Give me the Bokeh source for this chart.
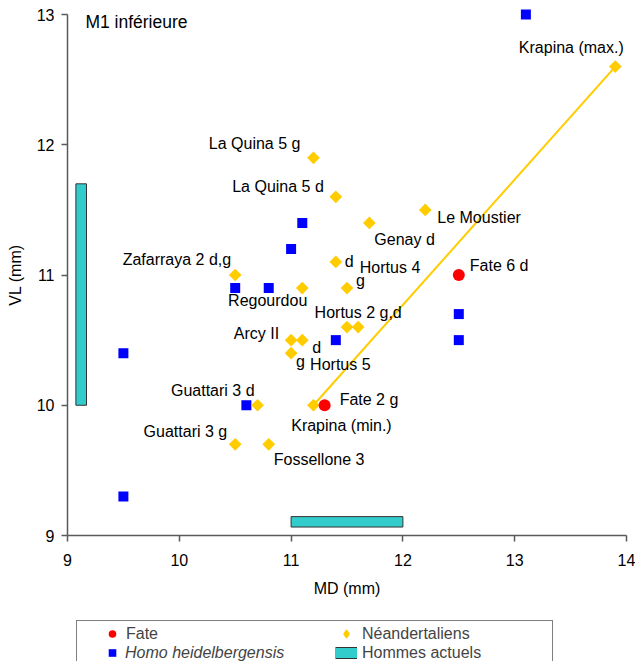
from bokeh.plotting import figure
from bokeh.models import (Range1d, FixedTicker, Legend, LegendItem, Label,
                          ColumnDataSource)
from bokeh.core.properties import value
from bokeh.embed import file_html
from bokeh.resources import INLINE
import math

# ---------------- data ----------------
x_ticks = [9, 10, 11, 12, 13, 14]
y_ticks = [9, 10, 11, 12, 13]

fate_md = [12.5, 11.3]
fate_vl = [11.0, 10.0]
fate_names = ["Fate 6 d", "Fate 2 g"]

heid_md = [13.1, 11.1, 11.0, 10.5, 10.8, 9.5, 11.4, 12.5, 12.5, 10.6, 9.5]
heid_vl = [13.0, 11.4, 11.2, 10.9, 10.9, 10.4, 10.5, 10.7, 10.5, 10.0, 9.3]

nean_names = ["Krapina (max.)", "La Quina 5 g", "La Quina 5 d", "Le Moustier",
              "Genay d", "Hortus 4 d", "Zafarraya 2 d,g", "Regourdou",
              "Hortus 4 g", "Hortus 2 g", "Hortus 2 d", "Arcy II",
              "Hortus 5 d", "Hortus 5 g", "Guattari 3 d", "Krapina (min.)",
              "Guattari 3 g", "Fossellone 3"]
nean_md = [13.9, 11.2, 11.4, 12.2, 11.7, 11.4, 10.5, 11.1, 11.5, 11.5, 11.6,
           11.0, 11.1, 11.0, 10.7, 11.2, 10.5, 10.8]
nean_vl = [12.6, 11.9, 11.6, 11.5, 11.4, 11.1, 11.0, 10.9, 10.9, 10.6, 10.6,
           10.5, 10.5, 10.4, 10.0, 10.0, 9.7, 9.7]

modern_md_range = [11.0, 12.0]
modern_vl_range = [10.0, 11.7]

# ------------- label annotations (series, index, text, align, dx, dy px) -------------
label_specs = [
    ("nean", 0, "Krapina (max.)", "center", -44, -19),
    ("nean", 1, "La Quina 5 g", "right", -13, -14),
    ("nean", 2, "La Quina 5 d", "right", -12, -10),
    ("nean", 3, "Le Moustier", "left", 12, 8),
    ("nean", 4, "Genay d", "left", 5, 17),
    ("nean", 5, "d", "left", 9, 0),
    ("nean", 5, "Hortus 4", "left", 24, 6),
    ("nean", 6, "Zafarraya 2 d,g", "right", -4, -16),
    ("nean", 7, "Regourdou", "right", 5, 12),
    ("nean", 8, "g", "left", 9, -8),
    ("nean", 10, "Hortus 2 g,d", "center", 0, -15),
    ("nean", 11, "Arcy II", "right", -12, -7),
    ("nean", 12, "d", "left", 10, 7),
    ("nean", 13, "g", "left", 5, 8),
    ("nean", 13, "Hortus 5", "left", 19, 11),
    ("nean", 14, "Guattari 3 d", "right", -3, -15),
    ("nean", 15, "Krapina (min.)", "center", 28, 20),
    ("nean", 16, "Guattari 3 g", "right", -8, -13),
    ("nean", 17, "Fossellone 3", "left", 5, 15),
    ("fate", 0, fate_names[0], "left", 11, -10),
    ("fate", 1, fate_names[1], "left", 15, -6),
]

FONT = "Liberation Sans"
YELLOW = "#FFCC00"
BLUE = "#0000FF"
RED = "#FF0000"
CYAN = "#33CCCC"
AXIS = "#5a5a5a"

# layout (pixels): the frame fills the whole figure, axes are pinned at MD=9 / VL=9
W, H = 635, 661
AX_LEFT, AX_TOP = 67, 14         # pixel position of (9, 13)
PX_X, PX_Y = 111.8, 130.25       # pixels per mm
x0, y1 = x_ticks[0], y_ticks[-1]
x_range = Range1d(x0 - AX_LEFT / PX_X, x0 + (W - AX_LEFT) / PX_X)
y_range = Range1d(y1 - (H - AX_TOP) / PX_Y, y1 + AX_TOP / PX_Y)

p = figure(width=W, height=H, x_range=x_range, y_range=y_range,
           output_backend="svg", toolbar_location=None, min_border=0,
           min_border_left=0, min_border_right=0, min_border_top=0,
           min_border_bottom=0)
p.outline_line_color = None
p.xgrid.visible = False
p.ygrid.visible = False
p.background_fill_color = "white"
p.border_fill_color = "white"

for ax, ticks, lab in ((p.xaxis[0], x_ticks, "MD (mm)"), (p.yaxis[0], y_ticks, "VL (mm)")):
    ax.ticker = FixedTicker(ticks=ticks)
    ax.bounds = (ticks[0], ticks[-1])
    ax.axis_label = lab
    ax.axis_label_text_font = FONT
    ax.axis_label_text_font_size = "16px"
    ax.axis_label_text_font_style = "normal"
    ax.axis_label_text_color = "black"
    ax.major_label_text_font = FONT
    ax.major_label_text_font_size = "16px"
    ax.major_label_text_color = "black"
    ax.axis_line_color = AXIS
    ax.axis_line_width = 1.5
    ax.major_tick_line_color = AXIS
    ax.major_tick_line_width = 1.5
    ax.major_tick_in = 0
    ax.major_tick_out = 6
    ax.minor_tick_line_color = None
p.xaxis[0].fixed_location = y_ticks[0]
p.yaxis[0].fixed_location = x_ticks[0]
p.xaxis[0].major_label_standoff = 12
p.xaxis[0].axis_label_standoff = 11
p.yaxis[0].major_label_standoff = 7
p.yaxis[0].axis_label_standoff = 10

# modern human ranges
p.quad(left=[modern_md_range[0]], right=[modern_md_range[1]], bottom=[9.065], top=[9.145],
       fill_color=CYAN, line_color="#333333", line_width=1)
p.quad(left=[9.075], right=[9.17], bottom=[modern_vl_range[0]], top=[modern_vl_range[1]],
       fill_color=CYAN, line_color="#333333", line_width=1)

# Krapina range line
p.line([nean_md[15], nean_md[0]], [nean_vl[15], nean_vl[0]], line_color=YELLOW, line_width=2)

r_heid = p.scatter(heid_md, heid_vl, marker="square", size=10, fill_color=BLUE, line_color=None)
r_nean = p.scatter(nean_md, nean_vl, marker="square", angle=math.pi / 4, size=9,
                   fill_color=YELLOW, line_color=None)
r_fate = p.scatter(fate_md, fate_vl, marker="circle", size=12, fill_color=RED, line_color=None)

# point labels
series = {"nean": (nean_md, nean_vl), "fate": (fate_md, fate_vl)}
for align in ("left", "right", "center"):
    rows = [s for s in label_specs if s[3] == align]
    src = ColumnDataSource(dict(
        x=[series[s[0]][0][s[1]] for s in rows],
        y=[series[s[0]][1][s[1]] for s in rows],
        t=[s[2] for s in rows],
        dx=[s[4] for s in rows],
        dy=[s[5] for s in rows]))
    p.text(x="x", y="y", text="t", x_offset="dx", y_offset="dy", source=src,
           text_font=value(FONT), text_font_size="16px", text_color="black",
           text_align=align, text_baseline="middle")

p.add_layout(Label(x=9.16, y=12.94, text="M1 inférieure", text_font=FONT,
                   text_font_size="17.5px", text_baseline="middle", text_color="black"))

# legend-only swatches (hidden in the plot, shown in the legend)
leg_edge = p.line(x=modern_md_range, y=[modern_vl_range[0]] * 2, line_color="#333333",
                  line_width=12, visible=False)
leg_fill = p.line(x=modern_md_range, y=[modern_vl_range[0]] * 2, line_color=CYAN,
                  line_width=10, visible=False)
leg_diam = p.scatter(x=nean_md[:1], y=nean_vl[:1], marker="diamond", fill_color=YELLOW,
                     line_color=YELLOW, line_width=1.5, visible=False)
leg_blank = p.scatter(x=[fate_md[0]], y=[fate_vl[0]], marker="square", fill_alpha=0,
                      line_alpha=0, visible=False)

common = dict(padding=3, spacing=0, margin=0,
              glyph_width=22, glyph_height=19, label_height=19,
              label_text_font=FONT, label_text_font_size="16px",
              title=" ", title_location="left", title_text_font_size="16px",
              title_standoff=3)
legA = Legend(items=[LegendItem(label="Fate", renderers=[r_fate]),
                     LegendItem(label=" ", renderers=[r_heid])],
              location=(76, -5), label_width=423, label_standoff=3,
              border_line_color="black", border_line_width=1,
              background_fill_color="white", **common)
legB = Legend(items=[LegendItem(label="Homo heidelbergensis", renderers=[leg_blank])],
              location=(79, -1), label_width=100, label_standoff=3,
              border_line_color=None, background_fill_alpha=0,
              label_text_font_style="italic", **common)
legC = Legend(items=[LegendItem(label="Néandertaliens", renderers=[leg_diam]),
                     LegendItem(label="Hommes actuels", renderers=[leg_edge, leg_fill])],
              location=(314, -1), label_width=100, label_standoff=5,
              border_line_color=None, background_fill_alpha=0, **common)
p.add_layout(legA, "center")
p.add_layout(legB, "center")
p.add_layout(legC, "center")

open("out.html", "w").write(file_html(p, INLINE))
